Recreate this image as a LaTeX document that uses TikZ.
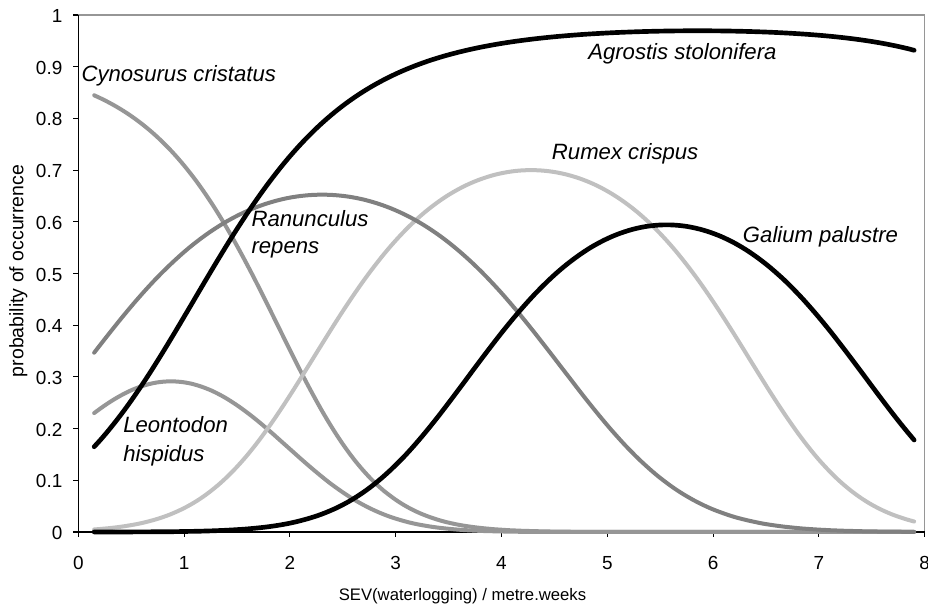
\documentclass[tikz,border=0pt]{standalone}
\usepackage{fontspec}
\setmainfont{Liberation Sans}
\definecolor{cyngrey}{RGB}{150,150,150}
\definecolor{rangrey}{RGB}{128,128,128}
\definecolor{rumgrey}{RGB}{192,192,192}
\definecolor{framegrey}{RGB}{150,150,150}
\tikzset{
  ticklab/.style={font=\fontsize{14.2pt}{17pt}\selectfont, inner sep=0pt},
  species/.style={font=\fontsize{16.6pt}{20pt}\selectfont\itshape, inner sep=0pt, anchor=base west},
  blackcurve/.style={line width=3.5pt, black, line cap=round},
  greycurve/.style={line width=3pt, line cap=round},
  declare function={lg(\t)=exp(max(\t,-9))/(1+exp(max(\t,-9)));},
}
\begin{document}
\begin{tikzpicture}[x=0.75pt,y=-0.75pt]
\useasboundingbox (0,0) rectangle (928,609);
\fill[white] (0,0) rectangle (928,609);
\begin{scope}[shift={(58.725pt,-399pt)}, x=79.35pt, y=387.75pt]
  % frame
  \draw[framegrey, line width=1pt] (0,1) -- (8,1) -- (8,0);
  \draw[black, line width=1pt] (0,1) -- (0,0) -- (8,0);
  % y ticks
  \foreach \v/\t [count=\i] in {0/0,0.1/0.1,0.2/0.2,0.3/0.3,0.4/0.4,0.5/0.5,0.6/0.6,0.7/0.7,0.8/0.8,0.9/0.9,1/1}{
    \draw[line width=0.8pt] (0,\v) -- ++(-3.75pt,0);
    \node[ticklab, anchor=east, xshift=-11.8pt, yshift=-0.8pt] (yt\i) at (0,\v) {\t};
  }
  % x ticks
  \foreach \v [count=\i] in {0,...,8}{
    \draw[line width=0.8pt] (\v,0) -- ++(0,-3.75pt);
    \node[ticklab, anchor=center, yshift=-23.2pt] (xt\i) at (\v,0) {\v};
  }
  % curves
  % Cynosurus cristatus
  \draw[greycurve, cyngrey] plot[domain=0.15:7.9, samples=120, smooth]
    (\x, {lg(1.79-0.60*\x-0.30*\x*\x)});
  % Leontodon hispidus
  \draw[greycurve, cyngrey] plot[domain=0.15:7.9, samples=120, smooth]
    (\x, {lg(-1.354+1.063*\x-0.6066*\x*\x)});
  % Rumex crispus
  \draw[greycurve, rumgrey] plot[domain=0.15:7.9, samples=120, smooth]
    (\x, {lg(0.847-0.36*(\x-4.28)*(\x-4.28))});
  % Ranunculus repens
  \draw[greycurve, rangrey] plot[domain=0.15:7.9, samples=120, smooth]
    (\x, {lg(0.63-0.272*(\x-2.305)*(\x-2.305))});
  % Galium palustre
  \draw[blackcurve] plot[domain=0.15:7.9, samples=120, smooth]
    (\x, {lg(0.381-0.349*(\x-5.56)*(\x-5.56))});
  % Agrostis stolonifera
  \draw[blackcurve] plot[domain=0.15:7.9, samples=120, smooth]
    (\x, {lg(-1.8626+1.6169*\x-0.08665*\x*\x-0.005854*\x*\x*\x)});
\end{scope}
% species labels (pixel coordinates)
\node[species] (cyn) at (81.3,81.7) {Cynosurus cristatus};
\node[species] (agr) at (588,60) {Agrostis stolonifera};
\node[species] (ran1) at (251.3,226.7) {Ranunculus};
\node[species] (ran2) at (251.3,253.3) {repens};
\node[species] (leo1) at (123,432.7) {Leontodon};
\node[species] (leo2) at (123,461.7) {hispidus};
\node[species] (rum) at (551.7,160) {Rumex crispus};
\node[species] (gal) at (742.7,242.7) {Galium palustre};
% axis titles
\node[font=\fontsize{14.6pt}{17pt}\selectfont, rotate=90, inner sep=0pt] (ytitle) at (18.3,271) {probability of occurrence};
\node[font=\fontsize{12.5pt}{15pt}\selectfont, inner sep=0pt] (xtitle) at (462.5,596) {SEV(waterlogging) / metre.weeks};
\end{tikzpicture}
\end{document}
